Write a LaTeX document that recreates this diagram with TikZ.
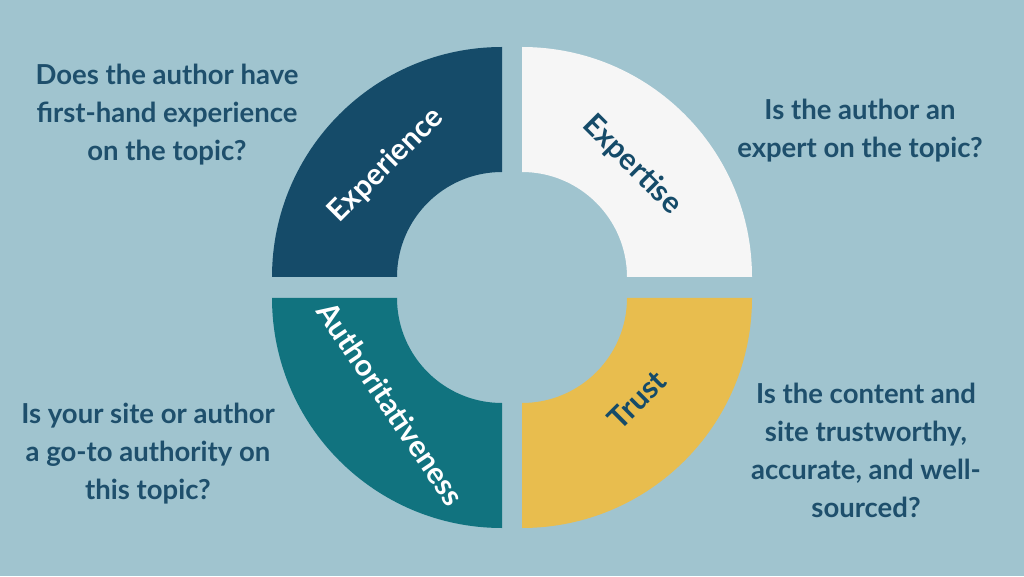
\documentclass[tikz,border=0pt]{standalone}
\usepackage{fontspec}
\setmainfont{Lato}[BoldFont={Lato Bold}]
\usepackage{xcolor}
\definecolor{bgblue}{HTML}{A0C4CF}
\definecolor{navy}{HTML}{154B69}
\definecolor{offwhite}{HTML}{F6F6F6}
\definecolor{tealq}{HTML}{11737F}
\definecolor{goldq}{HTML}{E8BD4E}
\definecolor{qtext}{HTML}{1E4F6C}
\begin{document}
\begin{tikzpicture}[x=1pt, y=1pt]
    \tikzset{question/.style={text=qtext, font=\fontsize{27.5}{38}\selectfont\bfseries, align=center},
             ring label/.style={text=white, font=\fontsize{30}{34}\selectfont\bfseries}}
    \fill[bgblue] (0,0) rectangle (1024,576);
    \useasboundingbox (0,0) rectangle (1024,576);
    % ring quadrants
    \fill[navy]     (272,299) arc(180:90:230) -- (502,404) arc(90:180:105) -- cycle;
    \fill[offwhite] (522,529) arc(90:0:230) -- (627,299) arc(0:90:105) -- cycle;
    \fill[tealq]    (272,278) arc(180:270:230) -- (502,173) arc(270:180:105) -- cycle;
    \fill[goldq]    (752,278) arc(0:-90:230) -- (522,173) arc(270:360:105) -- cycle;
    % quadrant labels
    \node[ring label, rotate=45]  (exp)   at (386,411) {Experience};
    \node[ring label, rotate=-45, text=navy] (expt) at (632,411) {Expertise};
    \node[ring label, rotate=-56] (auth)  at (391,172) {Authoritativeness};
    \node[ring label, rotate=45, text=navy] (trust) at (637,176) {Trust};
    % questions
    \node[question] (q_exp)   at (167,461) {Does the author have\\first-hand experience\\on the topic?};
    \node[question] (q_expt)  at (860,445) {Is the author an\\expert on the topic?};
    \node[question] (q_auth)  at (148,122) {Is your site or author\\a go-to authority on\\this topic?};
    \node[question] (q_trust) at (866,126) {Is the content and\\site trustworthy,\\accurate, and well-\\sourced?};
\end{tikzpicture}
\end{document}
